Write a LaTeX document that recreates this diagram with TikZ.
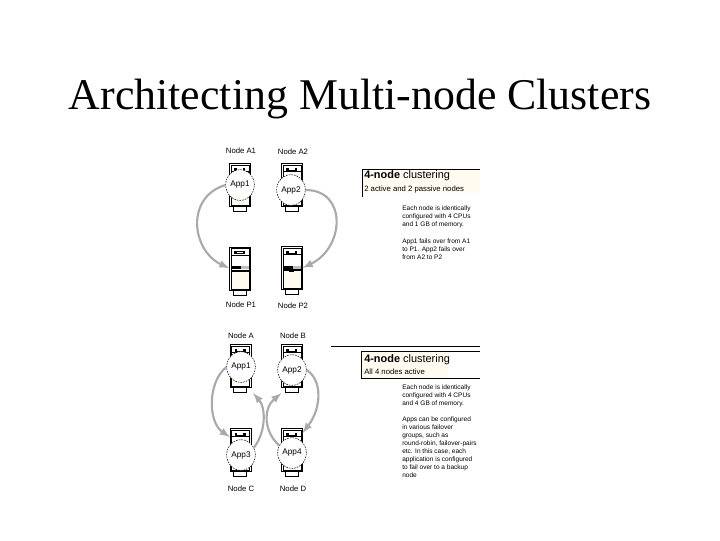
\documentclass[tikz,border=0pt]{standalone}
\usepackage{fontspec}
\usetikzlibrary{shapes.geometric}
\setmainfont{Liberation Serif}
\newfontfamily\labelfont{Liberation Sans}
\definecolor{panelcream}{RGB}{255,251,240}
\definecolor{arcgray}{RGB}{170,170,170}
\tikzset{
  srvbox/.style={minimum width=15.5pt,minimum height=36.5pt,inner sep=0pt},
  appdisc/.style={draw,dashed,dash pattern=on 1.2pt off 0.8pt,line width=0.4pt,fill=white,ellipse,minimum width=21.5pt,minimum height=23pt,inner sep=0pt,font=\labelfont\fontsize{6.2}{7}\selectfont},
  nodetag/.style={font=\labelfont\fontsize{5.8}{7}\selectfont,inner sep=0pt},
  failarc/.style={draw=arcgray,line width=1.6pt,-latex},
  bodytext/.style={font=\labelfont\fontsize{4.9}{6}\selectfont,align=left,anchor=north west,inner sep=0pt},
  headtext/.style={font=\labelfont\fontsize{8.2}{10}\selectfont,anchor=west,inner sep=0pt},
  subtext/.style={font=\labelfont\fontsize{5.8}{7}\selectfont,anchor=west,inner sep=0pt},
  pics/srvparts/.style={code={
    \draw[line width=0.6pt,fill=white] (-10.5,-24) rectangle (10.5,19);
    \draw[line width=0.4pt] (-9,-22.5) rectangle (9,-1);
    \fill (-6,-20) rectangle (5,-17);
    \fill[white] (-3.5,-19.2) rectangle (2.5,-17.8);
    \draw[line width=0.5pt] (-9,-16) -- (9,-16);
    \fill[gray!50] (-9,-5) rectangle (9,-2);
    \fill (-9,-5) rectangle (1,-2);
    \filldraw[fill=panelcream,line width=0.4pt] (-9,0) rectangle (9,18);
    \fill (-3,0) rectangle (2,1);
    \draw[line width=0.6pt] (-7,19) -- (-7,24) -- (6,24) -- (6,19);
  }}
}
\begin{document}
\begin{tikzpicture}[x=0.75pt,y=-0.75pt]
\useasboundingbox (0,0) rectangle (720,540);
\node[font=\fontsize{32.9}{40}\selectfont,inner sep=0pt] (title) at (360,99) {Architecting Multi-node Clusters};

% servers
\foreach \nm/\x/\y in {a1/240/187.5,a2/292/187.5,p1/240/271,p2/292/270.5,a/240.5/368.5,b/292/368.5,c/240.5/452.5,d/292/452.5}
{
\node[srvbox] (\nm) at (\x,\y) {};
\pic at (\nm) {srvparts};
}

% tags
\node[nodetag] (tag a1) at (241,151) {Node A1};
\node[nodetag] (tag a2) at (293,152) {Node A2};
\node[nodetag] (tag p1) at (241,305) {Node P1};
\node[nodetag] (tag p2) at (293,306) {Node P2};
\node[nodetag] (tag a) at (241,336) {Node A};
\node[nodetag] (tag b) at (293,336) {Node B};
\node[nodetag] (tag c) at (241,489) {Node C};
\node[nodetag] (tag d) at (293,489) {Node D};

% discs
\node[appdisc] (app1) at (240,185) {App1};
\node[appdisc] (app2) at (291,190) {App2};
\node[appdisc] (app1b) at (241,367) {App1};
\node[appdisc] (app2b) at (292,370) {App2};
\node[appdisc] (app3) at (241,455) {App3};
\node[appdisc] (app4) at (292,453) {App4};

% failover arcs
\draw[failarc] (app1.west) .. controls +(-40,12) and +(-38,-18) .. ([yshift=2pt]p1.west);
\draw[failarc] (app2.east) .. controls +(42,0) and +(42,-20) .. ([yshift=2pt]p2.east);
\draw[failarc] (app1b.west) .. controls +(-19,15) and +(-22,-15) .. ([yshift=11.6pt]c.west);
\draw[failarc] (app3.30) .. controls +(12,-15) and +(13,15) .. ([xshift=1.5pt]a.south east);
\draw[failarc] (app4.150) .. controls +(-16,-15) and +(-18,15) .. (b.south west);
\draw[failarc] (app2b.east) .. controls +(16,10) and +(19,-25) .. ([yshift=14.6pt]d.east);

% upper panel
\fill[panelcream] (362,169) rectangle (480,193);
\draw[line width=0.6pt] (480,169) -- (362,169) -- (362,197);
\node[headtext] (head1) at (364,176) {\textbf{4-node} clustering};
\node[subtext] (sub1) at (364,189) {2 active and 2 passive nodes};
\node[bodytext] (body1) at (402,205) {Each node is identically\\configured with 4 CPUs\\and 1 GB of memory.};
\node[bodytext] (body1b) at (402,238) {App1 fails over from A1\\to P1. App2 fails over\\from A2 to P2};

% lower panel
\draw[line width=0.6pt] (331,346) -- (480,346);
\fill[panelcream] (361,351) rectangle (448,378);
\draw[line width=0.6pt] (480,351) -- (361,351) -- (361,378) -- (480,378);
\node[headtext] (head2) at (364,360) {\textbf{4-node} clustering};
\node[subtext] (sub2) at (364,372) {All 4 nodes active};
\node[bodytext] (body2) at (402,384) {Each node is identically\\configured with 4 CPUs\\and 4 GB of memory.};
\node[bodytext] (body2b) at (402,416) {Apps can be configured\\in various failover\\groups, such as\\round-robin, failover-pairs\\etc. In this case, each\\application is configured\\to fail over to a backup\\node};
\end{tikzpicture}
\end{document}
